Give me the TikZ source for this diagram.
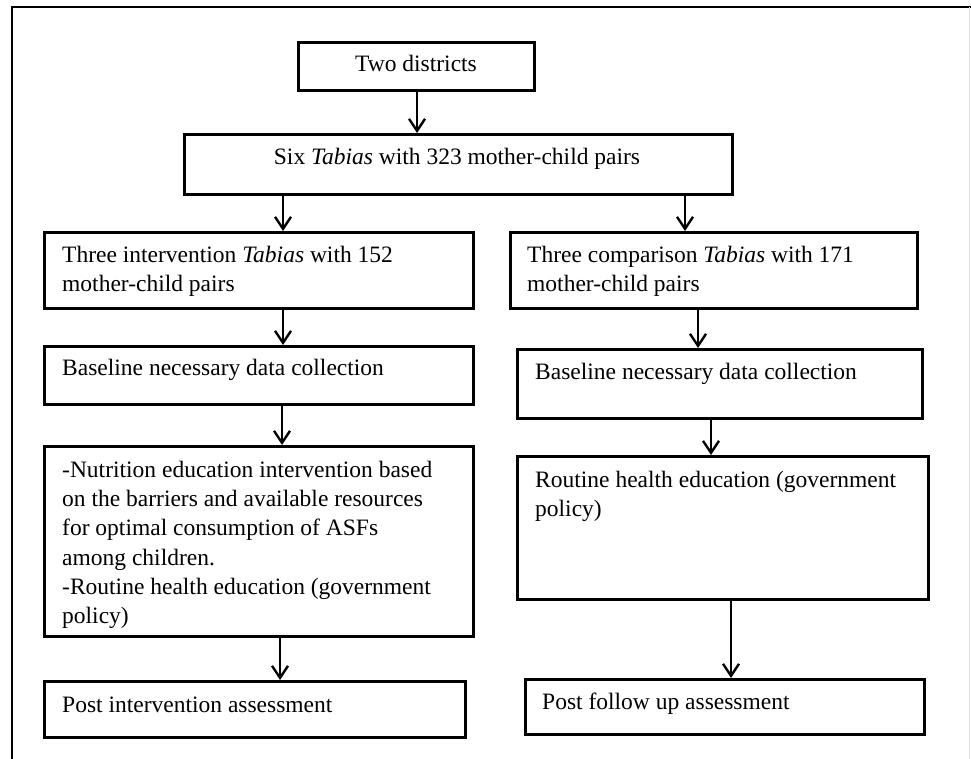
\documentclass[tikz,border=0pt]{standalone}
\usepackage{fontspec}
\setmainfont{Liberation Serif}
\usetikzlibrary{arrows.meta}
\begin{document}
\begin{tikzpicture}[x=1pt,y=-1pt,
  box/.style={draw, line width=3pt, inner sep=0pt, anchor=north west},
  txt/.style={inner sep=0pt, font=\fontsize{23.5}{29.3}\selectfont},
  txtm/.style={inner sep=0pt, anchor=north west, align=left, font=\fontsize{23.5}{29.3}\selectfont},
  arr/.style={line width=2.4pt, -{Straight Barb[length=12pt,width=16pt]}}]
\useasboundingbox (0,0) rectangle (971,759);
% outer frame
\draw[line width=2pt] (12,759) -- (12,7) -- (971,7);
\draw[black!12, line width=1.2pt] (969.5,7) -- (969.5,759);
% boxes
\node[box, minimum width=236pt, minimum height=48pt] (d2) at (297,41) {};
\node[box, minimum width=548pt, minimum height=60pt] (six) at (183,133) {};
\node[box, minimum width=429pt, minimum height=76pt] (li) at (43,231) {};
\node[box, minimum width=407pt, minimum height=76pt] (ri) at (509,231) {};
\node[box, minimum width=429pt, minimum height=58pt] (lb) at (43,345) {};
\node[box, minimum width=405pt, minimum height=69pt] (rb) at (516,348) {};
\node[box, minimum width=429pt, minimum height=190pt] (ln) at (43,445) {};
\node[box, minimum width=411pt, minimum height=143pt] (rr) at (516,455) {};
\node[box, minimum width=421pt, minimum height=56pt] (lp) at (43,680) {};
\node[box, minimum width=399pt, minimum height=55pt] (rp) at (524,678) {};
% texts
\node[txt, anchor=base] (t0) at (416,72) {Two districts};
\node[txt, anchor=base] (t1) at (457,165) {Six \textit{Tabias} with 323 mother-child pairs};
\node[txtm] (t2) at (62,241.5) {\strut Three intervention \textit{Tabias} with 152\\mother-child pairs};
\node[txtm] (t3) at (527,241.5) {\strut Three comparison \textit{Tabias} with 171\\mother-child pairs};
\node[txt, anchor=base west] (t4) at (62,375) {Baseline necessary data collection};
\node[txt, anchor=base west] (t5) at (535,379) {Baseline necessary data collection};
\node[txtm] (t6) at (62,456.5) {\strut -Nutrition education intervention based\\on the barriers and available resources\\for optimal consumption of ASFs\\among children.\\-Routine health education (government\\policy)};
\node[txtm] (t7) at (535,466.5) {\strut Routine health education (government\\policy)};
\node[txt, anchor=base west] (t8) at (62,712) {Post intervention assessment};
\node[txt, anchor=base west] (t9) at (542,709) {Post follow up assessment};
% arrow end points
\coordinate (a0) at ([xshift=234pt]six.north west);
\coordinate (a1) at ([xshift=240pt]li.north west);
\coordinate (a2) at ([xshift=176pt]ri.north west);
\coordinate (a3) at ([xshift=240pt]lb.north west);
\coordinate (a4) at ([xshift=182pt]rb.north west);
\coordinate (a5) at ([xshift=239pt]ln.north west);
\coordinate (a6) at ([xshift=195pt]rr.north west);
\coordinate (a7) at ([xshift=237pt]lp.north west);
\coordinate (a8) at ([xshift=207pt]rp.north west);
% arrows
\draw[arr] (d2.south -| a0) -- (a0);
\draw[arr] (six.south -| a1) -- (a1);
\draw[arr] (six.south -| a2) -- (a2);
\draw[arr] (li.south -| a3) -- (a3);
\draw[arr] (ri.south -| a4) -- (a4);
\draw[arr] (lb.south -| a5) -- (a5);
\draw[arr] (rb.south -| a6) -- (a6);
\draw[arr] (ln.south -| a7) -- (a7);
\draw[arr] (rr.south -| a8) -- (a8);
\end{tikzpicture}
\end{document}
